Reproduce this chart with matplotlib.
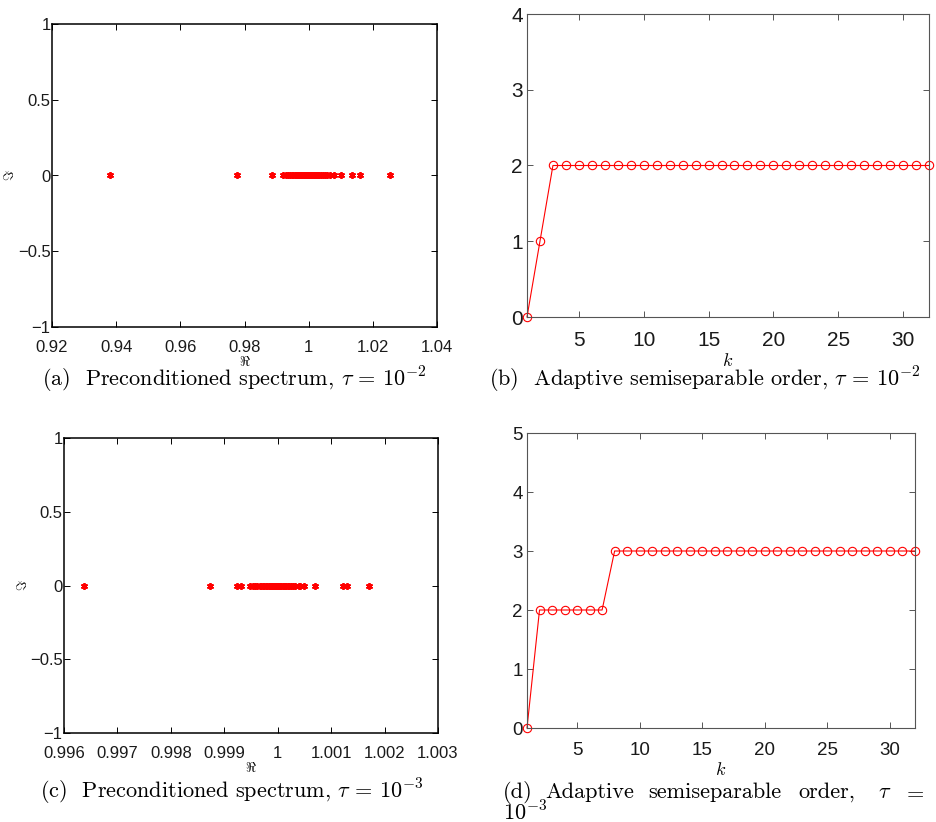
"""Preconditioned spectra and adaptive semiseparable order, 2x2 panel figure."""
import matplotlib

matplotlib.use("Agg")
import matplotlib.pyplot as plt  # noqa: E402
from matplotlib.ticker import FuncFormatter  # noqa: E402

plt.rcParams["mathtext.fontset"] = "cm"
plt.rcParams["font.family"] = ["Liberation Sans", "DejaVu Sans"]

W, H = 936, 822

# (a) eigenvalues of the preconditioned matrix, tau = 1e-2 (all real)
spec_a = [0.9381, 0.9778, 0.9885, 0.9921, 0.9929, 0.9936, 0.9942, 0.9947, 0.9952,
          0.9957, 0.9961, 0.9965, 0.9968, 0.9971, 0.9974, 0.9977, 0.9979, 0.9981,
          0.9983, 0.9985, 0.9987, 0.9989, 0.9990, 0.9992, 0.9993, 0.9995, 0.9996,
          0.9997, 0.9998, 0.9999, 1.0000, 1.0001, 1.0002, 1.0003, 1.0004, 1.0005,
          1.0007, 1.0008, 1.0010, 1.0012, 1.0014, 1.0016, 1.0019, 1.0022, 1.0025,
          1.0029, 1.0033, 1.0038, 1.0044, 1.0050, 1.0057, 1.0066, 1.0079, 1.0102,
          1.0134, 1.0160, 1.0254]

# (c) eigenvalues, tau = 1e-3
spec_c = [0.99637, 0.99874, 0.99923, 0.99931, 0.99949, 0.99953, 0.99957, 0.99962,
          0.99966, 0.99969, 0.99972, 0.99975, 0.99978, 0.99980, 0.99983, 0.99985,
          0.99987, 0.99989, 0.99991, 0.99993, 0.99995, 0.99997, 0.99999, 1.00000,
          1.00001, 1.00003, 1.00005, 1.00007, 1.00009, 1.00011, 1.00013, 1.00016,
          1.00019, 1.00022, 1.00025, 1.00028, 1.00032, 1.00040, 1.00042, 1.00049,
          1.00070, 1.00122, 1.00129, 1.00170]

# (b), (d) semiseparable order per step k
k = list(range(1, 33))
order_b = [0, 1, 2, 2, 2, 2, 2, 2, 2, 2, 2, 2, 2, 2, 2, 2,
           2, 2, 2, 2, 2, 2, 2, 2, 2, 2, 2, 2, 2, 2, 2, 2]
order_d = [0, 2, 2, 2, 2, 2, 2, 3, 3, 3, 3, 3, 3, 3, 3, 3,
           3, 3, 3, 3, 3, 3, 3, 3, 3, 3, 3, 3, 3, 3, 3, 3]

xticks_a = [0.92, 0.94, 0.96, 0.98, 1.0, 1.02, 1.04]
xticks_c = [0.996, 0.997, 0.998, 0.999, 1.0, 1.001, 1.002, 1.003]
yticks_spec = [-1, -0.5, 0, 0.5, 1]
xticks_k = [5, 10, 15, 20, 25, 30]


def _box(left, top, right, bottom):
    return [left / W, 1 - bottom / H, (right - left) / W, (bottom - top) / H]


def _fmt(v, _):
    return f"{v:g}".replace("-", "\u2212")


def _style(ax, color, lw, size):
    for s in ax.spines.values():
        s.set_color(color)
        s.set_linewidth(lw)
    ax.tick_params(direction="in", top=True, right=True, length=4, width=0.7,
                   color=color, labelcolor="#1a1a1a", labelsize=size, pad=3)


fig = plt.figure(figsize=(W / 100, H / 100), dpi=100)

# spectrum panels
for box, vals, ticks, lim in [
    (_box(52, 24, 437, 327), spec_a, xticks_a, (0.92, 1.04)),
    (_box(64, 438, 438, 733), spec_c, xticks_c, (0.996, 1.003)),
]:
    ax = fig.add_axes(box)
    ax.plot(vals, [0] * len(vals), ls="none", marker=(6, 2, 0), ms=5, color="red",
            markeredgewidth=1.3)
    ax.set_xlim(*lim)
    ax.set_ylim(-1, 1)
    ax.set_xticks(ticks)
    ax.set_yticks(yticks_spec)
    ax.xaxis.set_major_formatter(FuncFormatter(_fmt))
    ax.yaxis.set_major_formatter(FuncFormatter(_fmt))
    _style(ax, "black", 1.1, 12)
    ax.tick_params(axis="y", pad=1)
    ax.tick_params(axis="x", pad=9)
    ax.set_xlabel(r"$\Re$", fontsize=10, labelpad=0)
    ax.set_ylabel(r"$\Im$", fontsize=10)
    ax.yaxis.set_label_coords(-0.091, 0.5)

# order panels
for box, vals, ytop, size in [
    (_box(527, 14, 929, 317), order_b, 4, 15),
    (_box(527, 433, 915, 728), order_d, 5, 13.5),
]:
    ax = fig.add_axes(box)
    ax.plot(k, vals, color="red", lw=0.8, marker="o", ms=6, mfc="none",
            mec="red", mew=0.8, clip_on=False)
    ax.set_xlim(1, 32)
    ax.set_ylim(0, ytop)
    ax.set_xticks(xticks_k)
    ax.set_yticks(range(ytop + 1))
    _style(ax, "#555555", 0.8, size)
    ax.tick_params(axis="x", pad=10)
    ax.set_xlabel(r"$k$", fontsize=13, labelpad=2)

# captions (baseline-anchored so superscripts don't shift lines)
cap = dict(fontfamily="cmr10", fontsize=16, va="baseline")
fig.text(234 / W, 1 - 386 / H, r"(a)  Preconditioned spectrum, $\tau\,=\,10^{-2}$",
         ha="center", **cap)
fig.text(705 / W, 1 - 386 / H, r"(b)  Adaptive semiseparable order, $\tau\,=\,10^{-2}$",
         ha="center", **cap)
fig.text(232 / W, 1 - 798 / H, r"(c)  Preconditioned spectrum, $\tau\,=\,10^{-3}$",
         ha="center", **cap)
# (d) is justified over two lines in the source layout
for word, x in [("(d)", 503), ("Adaptive", 545), ("semiseparable", 648),
                ("order,", 798), (r"$\tau$", 878), (r"$=$", 903)]:
    fig.text(x / W, 1 - 798 / H, word, ha="left", **cap)
fig.text(503 / W, 1 - 820 / H, r"$10^{-3}$", ha="left", **cap)

fig.savefig("out.png", dpi=100)
